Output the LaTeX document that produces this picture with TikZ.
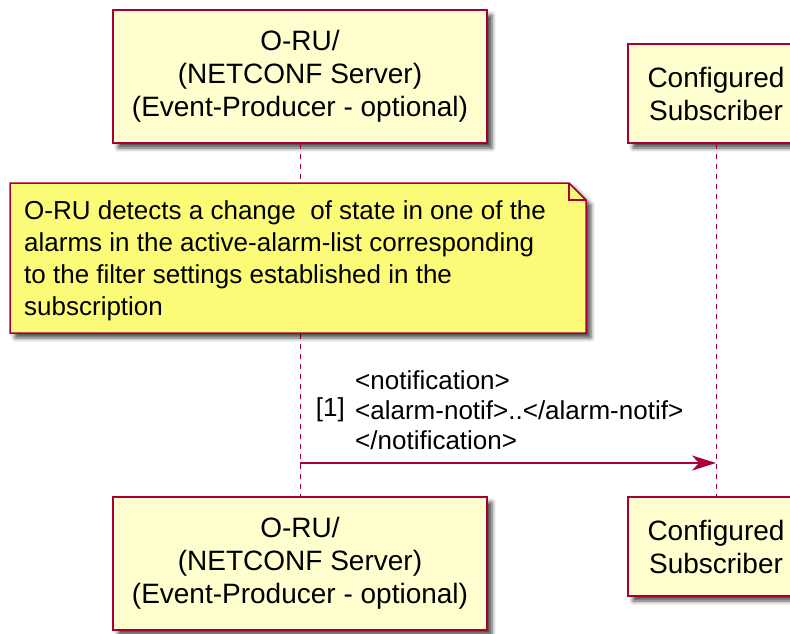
\documentclass[tikz,border=0pt]{standalone}
\usepackage{fontspec}
\setmainfont{Liberation Sans}
\usetikzlibrary{calc,positioning,arrows.meta,shadows.blur}
\definecolor{umlred}{HTML}{A80036}
\definecolor{umlbox}{HTML}{FEFECE}
\definecolor{umlnote}{HTML}{FBFB77}

\begin{document}
\begin{tikzpicture}[x=1pt, y=-1pt,
                    participant/.style={rectangle, draw=umlred, fill=umlbox, line width=1.5pt,
                                        align=center, inner sep=0pt, font=\fontsize{28}{33}\selectfont,
                                        blur shadow={shadow xshift=5pt, shadow yshift=-5pt, shadow opacity=70,
                                                     shadow blur radius=4pt}},
                    lifeline/.style={draw=umlred, line width=1pt, dash pattern=on 5pt off 5pt},
                    notebox/.style={draw=umlred, fill=umlnote, line width=1.5pt, line join=miter,
                                    blur shadow={shadow xshift=5pt, shadow yshift=-5pt, shadow opacity=70,
                                                 shadow blur radius=4pt}},
                    notetext/.style={align=left, inner sep=0pt, font=\fontsize{26}{32}\selectfont},
                    message/.style={draw=umlred, line width=1.5pt, -{Stealth[length=24pt, width=15pt, inset=7pt]}},
                    msglabel/.style={align=left, inner sep=0pt, font=\fontsize{26}{30}\selectfont}
                    ]
\useasboundingbox (0,0) rectangle (790,634);

%% participants, top and bottom
\node[participant, minimum width=374, minimum height=133] (orutop) at (300,76.5)
  {O-RU/\\(NETCONF Server)\\(Event-Producer - optional)};
\node[participant, minimum width=176, minimum height=99] (subtop) at (716,93.5)
  {Configured\\Subscriber};
\node[participant, minimum width=374, minimum height=133] (orubot) at (300,563.5)
  {O-RU/\\(NETCONF Server)\\(Event-Producer - optional)};
\node[participant, minimum width=176, minimum height=99] (subbot) at (716,546.5)
  {Configured\\Subscriber};

%% lifelines
\draw[lifeline] (orutop.south) -- (orubot.north);
\draw[lifeline] (subtop.south) -- (subbot.north);

%% note over O-RU
\coordinate (noteNW) at (10,183);
\coordinate (noteSE) at (586,333);
\draw[notebox] (noteNW) -- ($(noteNW -| noteSE)+(-17,0)$) -- ($(noteNW -| noteSE)+(0,17)$)
  -- (noteSE) -- (noteNW |- noteSE) -- cycle;
\draw[umlred, line width=1.5pt] ($(noteNW -| noteSE)+(-17,0)$) -- ($(noteNW -| noteSE)+(-17,17)$)
  -- ($(noteNW -| noteSE)+(0,17)$);
\node[notetext, anchor=west] (note) at (24,261)
  {O-RU detects a change~ of state in one of the\\alarms in the active-alarm-list corresponding\\to the filter settings established in the\\subscription};

%% message
\coordinate (msgL) at (orutop.south |- 0,463);
\coordinate (msgR) at (subtop.south |- 0,463);
\draw[message] (msgL) -- (msgR);
\node[msglabel, anchor=west] (msg) at (355,410)
  {<notification>\\<alarm-notif>..</alarm-notif>\\</notification>};
\node[msglabel, left=10pt of msg] (num) {[1]};
\end{tikzpicture}
\end{document}
